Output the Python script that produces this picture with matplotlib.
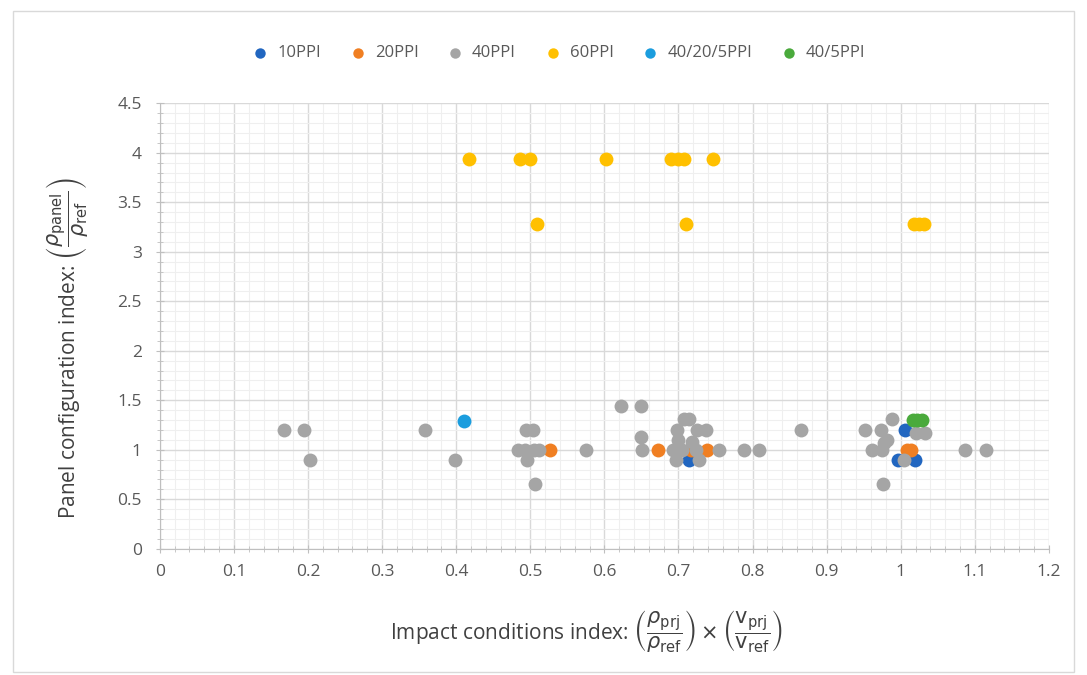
import matplotlib
matplotlib.use("Agg")
import matplotlib.pyplot as plt
from matplotlib.patches import Rectangle
from matplotlib.ticker import MultipleLocator

plt.rcParams['font.family'] = ['Open Sans', 'DejaVu Sans']
plt.rcParams['mathtext.fontset'] = 'dejavusans'

series_names = ["10PPI", "20PPI", "40PPI", "60PPI", "40/20/5PPI", "40/5PPI"]
colors = ["#2166C0", "#F07F22", "#A5A5A5", "#FFC000", "#1B9DDE", "#4AAA3C"]

x_10ppi = [0.714, 1.006, 0.996, 1.019]
y_10ppi = [0.9, 1.2, 0.9, 0.9]

x_20ppi = [0.527, 0.673, 0.717, 0.739, 1.008, 1.014]
y_20ppi = [1.0, 1.0, 1.0, 1.0, 1.0, 1.0]

x_40ppi = [0.167, 0.195, 0.203, 0.358, 0.399,
           0.494, 0.504, 0.483, 0.493, 0.505, 0.512, 0.496, 0.507, 0.575,
           0.622, 0.650, 0.650, 0.651, 0.708, 0.714,
           0.698, 0.725, 0.737, 0.700, 0.718, 0.692, 0.705, 0.723, 0.755,
           0.696, 0.728, 0.789, 0.809, 0.865,
           0.952, 0.973, 0.988, 0.982, 0.977, 0.961, 0.975, 0.976, 1.004,
           1.020, 1.033, 1.087, 1.115]
y_40ppi = [1.2, 1.2, 0.9, 1.2, 0.9,
           1.2, 1.2, 1.0, 1.0, 1.0, 1.0, 0.9, 0.65, 1.0,
           1.44, 1.44, 1.13, 1.0, 1.31, 1.31,
           1.2, 1.2, 1.2, 1.1, 1.08, 1.0, 1.0, 1.0, 1.0,
           0.9, 0.9, 1.0, 1.0, 1.2,
           1.2, 1.2, 1.31, 1.1, 1.07, 1.0, 1.0, 0.65, 0.9,
           1.17, 1.17, 1.0, 1.0]

x_60ppi = [0.417, 0.486, 0.500, 0.602, 0.690, 0.700, 0.708, 0.746,
           0.509, 0.710, 1.018, 1.025, 1.032]
y_60ppi = [3.94, 3.94, 3.94, 3.94, 3.94, 3.94, 3.94, 3.94,
           3.28, 3.28, 3.28, 3.28, 3.28]

x_40_20_5ppi = [0.411]
y_40_20_5ppi = [1.29]

x_40_5ppi = [1.016, 1.022, 1.028]
y_40_5ppi = [1.3, 1.3, 1.3]

xs = [x_10ppi, x_20ppi, x_40ppi, x_60ppi, x_40_20_5ppi, x_40_5ppi]
ys = [y_10ppi, y_20ppi, y_40ppi, y_60ppi, y_40_20_5ppi, y_40_5ppi]

fig = plt.figure(figsize=(10.87, 6.75), dpi=100)
ax = fig.add_axes([0.147, 0.187, 0.818, 0.660])

# chart frame
fig.patches.append(Rectangle((0.012, 0.005), 0.976, 0.978, transform=fig.transFigure,
                             fill=False, edgecolor="#D9D9D9", linewidth=1.0))

for xv, yv, c, n in zip(xs, ys, colors, series_names):
    ax.scatter(xv, yv, s=100, color=c, label=n, linewidths=0, zorder=3)

ax.set_xlim(0, 1.2)
ax.set_ylim(0, 4.5)
ax.xaxis.set_major_locator(MultipleLocator(0.1))
ax.xaxis.set_minor_locator(MultipleLocator(0.02))
ax.yaxis.set_major_locator(MultipleLocator(0.5))
ax.yaxis.set_minor_locator(MultipleLocator(0.1))

ax.grid(which='major', color="#D9D9D9", linewidth=1.0, zorder=0)
ax.grid(which='minor', color="#EFEFEF", linewidth=0.8, zorder=0)
ax.set_axisbelow(True)

for side in ['top', 'right']:
    ax.spines[side].set_visible(False)
for side in ['left', 'bottom']:
    ax.spines[side].set_color("#BFBFBF")

ax.tick_params(which='major', direction='inout', length=6, color="#BFBFBF",
               labelsize=12.5, labelcolor="#595959")
ax.tick_params(which='minor', direction='inout', length=4, color="#BFBFBF")

def fmt(v):
    s = f"{v:.1f}"
    if s.endswith(".0"):
        s = s[:-2]
    return s

ax.set_xticks([i / 10 for i in range(13)])
ax.set_xticklabels([fmt(i / 10) for i in range(13)])
ax.set_yticks([i / 2 for i in range(10)])
ax.set_yticklabels([fmt(i / 2) for i in range(10)])
ax.tick_params(axis='x', pad=8)
ax.tick_params(axis='y', pad=10)

ax.set_xlabel(r"Impact conditions index: $\left(\dfrac{\rho_{\mathrm{prj}}}{\rho_{\mathrm{ref}}}\right)\times\left(\dfrac{\mathrm{v}_{\mathrm{prj}}}{\mathrm{v}_{\mathrm{ref}}}\right)$",
              fontsize=15, color="#404040")
ax.set_ylabel(r"Panel configuration index: $\left(\dfrac{\rho_{\mathrm{panel}}}{\rho_{\mathrm{ref}}}\right)$",
              fontsize=15, color="#404040")
ax.xaxis.set_label_coords(0.48, -0.135)
ax.yaxis.set_label_coords(-0.078, 0.45)

leg = fig.legend(loc='center', bbox_to_anchor=(0.51, 0.921), ncol=6, frameon=False,
                 fontsize=12, handletextpad=0.02, columnspacing=1.2, markerscale=0.75)
for t in leg.get_texts():
    t.set_color("#595959")

fig.savefig("out.png", dpi=100, facecolor="white")
